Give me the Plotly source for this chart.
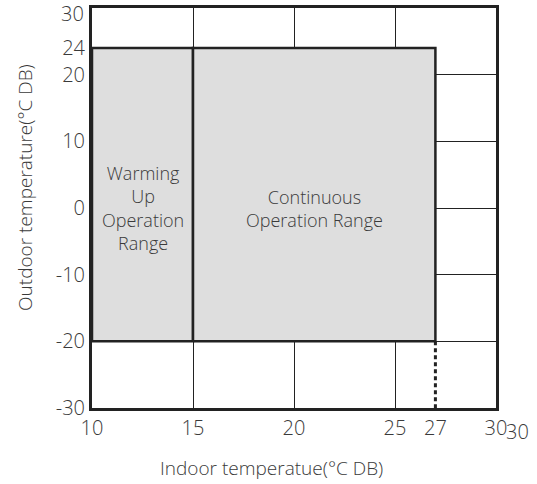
import plotly.graph_objects as go

# Operating ranges (indoor °C DB on x, outdoor °C DB on y)
range_names = ["Warming<br>Up<br>Operation<br>Range", "Continuous<br>Operation Range"]
indoor_min = [10, 15]
indoor_max = [15, 27]
outdoor_min = [-20, -20]
outdoor_max = [24, 24]

# Axis ticks
x_ticks = [10, 15, 20, 25, 27, 30]
y_ticks = [-30, -20, -10, 0, 10, 20, 24, 30]
x_grid = [15, 20, 25]
y_grid = [-20, -10, 0, 10, 20]
y_top = 30

# Limit marker below the continuous range
limit_x = [27, 27]
limit_y = [-20, -30]

FONT = "Open Sans"
WEIGHT = 300
INK = "#222222"
TEXT = "#3a3a3a"
FILL = "#dedede"
SIZE = 20

fig = go.Figure()

for name, x0, x1, y0, y1 in zip(range_names, indoor_min, indoor_max, outdoor_min, outdoor_max):
    fig.add_trace(go.Scatter(
        x=[x0, x1, x1, x0, x0],
        y=[y0, y0, y1, y1, y0],
        mode="lines",
        fill="toself",
        fillcolor=FILL,
        line=dict(color=INK, width=2.5),
        hoverinfo="skip",
        showlegend=False,
    ))
    fig.add_annotation(
        x=(x0 + x1) / 2, y=0,
        text=name, showarrow=False,
        xanchor="center", yanchor="middle",
        font=dict(family=FONT, size=18, color=TEXT, weight=WEIGHT),
    )

fig.add_trace(go.Scatter(
    x=limit_x, y=limit_y, mode="lines",
    line=dict(color=INK, width=3, dash="4px,3px"),
    hoverinfo="skip", showlegend=False,
))

tick_font = dict(family=FONT, size=SIZE, color=TEXT, weight=WEIGHT)
axis_common = dict(
    showline=True, mirror=True, linecolor=INK, linewidth=3,
    showgrid=False, zeroline=False, ticks="",
    tickfont=tick_font,
    tickmode="array", ticklabeloverflow="allow", automargin=False,
)

fig.update_xaxes(
    range=[10, 30], tickvals=x_ticks, ticktext=[str(v) for v in x_ticks],
    minor=dict(tickmode="array", tickvals=x_grid, showgrid=True,
               gridcolor=INK, gridwidth=1, ticks=""),
    **axis_common,
)
# The top label sits just inside the frame, so it is placed separately
fig.update_yaxes(
    range=[-30, 30], tickvals=y_ticks,
    ticktext=["" if v == y_top else str(v) for v in y_ticks],
    minor=dict(tickmode="array", tickvals=y_grid, showgrid=True,
               gridcolor=INK, gridwidth=1, ticks=""),
    **axis_common,
)
fig.add_annotation(
    xref="paper", x=0, y=y_top, xanchor="right", yanchor="middle",
    xshift=-6, yshift=-5, text=str(y_top), showarrow=False, font=tick_font,
)

# Axis titles and the trailing scale label
fig.add_annotation(
    xref="paper", yref="paper", x=0.4455, y=-0.15,
    xanchor="center", yanchor="middle",
    text="Indoor temperatue(°C DB)", showarrow=False,
    font=dict(family=FONT, size=19, color=TEXT, weight=WEIGHT),
)
fig.add_annotation(
    xref="paper", yref="paper", x=-0.166, y=0.5525,
    xanchor="center", yanchor="middle",
    text="Outdoor temperature(°C DB)", showarrow=False, textangle=-90,
    font=dict(family=FONT, size=19, color=TEXT, weight=WEIGHT),
)
fig.add_annotation(
    xref="paper", yref="paper", x=1.054, y=-0.058,
    xanchor="center", yanchor="middle",
    text="30", showarrow=False, font=tick_font,
)

fig.update_layout(
    width=537, height=484,
    margin=dict(l=92, r=41, t=8, b=76),
    plot_bgcolor="white", paper_bgcolor="white",
)

fig.write_html("out.html")
